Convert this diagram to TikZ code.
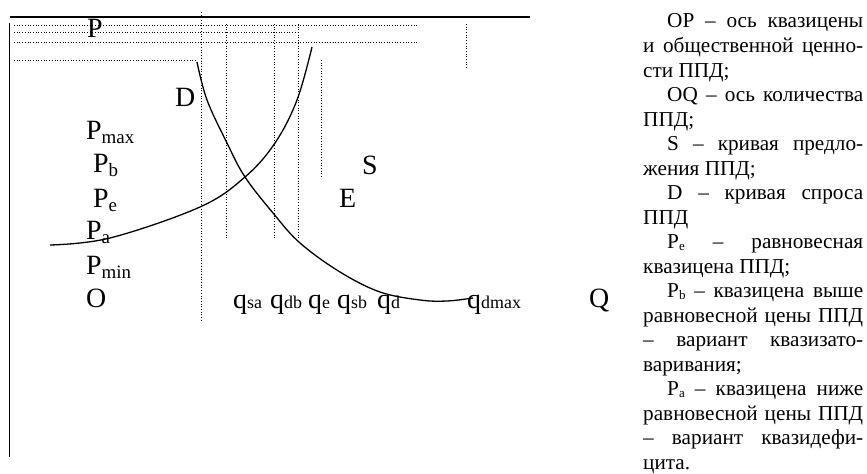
\documentclass[tikz,border=0pt]{standalone}
\usepackage{fontspec}
\setmainfont{Liberation Serif}
\newcommand\lsub[1]{\raisebox{-4bp}{\fontsize{19}{19}\selectfont #1}}
\newcommand\qsub[1]{{\fontsize{18}{18}\selectfont #1}}
\newcommand\tsub[1]{\raisebox{-2bp}{\fontsize{13}{13}\selectfont #1}}
\newcommand\jline[1]{\makebox[\linewidth][s]{#1}\par}
\newcommand\nline[1]{\mbox{#1}\par}
\begin{document}
\begin{tikzpicture}[x=1bp,y=-1bp,
  axisline/.style={line width=1bp},
  topline/.style={line width=1.6bp},
  guide/.style={line width=0.8bp, dash pattern=on 0.9bp off 1.8bp},
  curveline/.style={line width=1.3bp},
  lbl/.style={font=\fontsize{28}{28}\selectfont, inner sep=0pt, anchor=base west}]
\useasboundingbox (0,0) rectangle (867,474);
% axes
\draw[topline] (10,17) -- (530,17);
\draw[axisline] (9,23) -- (9,457);
% dotted guides
\draw[guide] (14,25) -- (419,25);
\draw[guide] (14,32) -- (298,32);
\draw[guide] (14,42) -- (419,42);
\draw[guide] (14,60) -- (197,60);
\draw[guide] (201,12) -- (201,322);
\draw[guide] (226,24) -- (226,240);
\draw[guide] (274,24) -- (274,240);
\draw[guide] (298,24) -- (298,240);
\draw[guide] (321,60) -- (321,177);
\draw[guide] (466,24) -- (466,69);
% curves
\draw[curveline] plot[smooth, tension=0.6] coordinates {(50,245) (110,238) (200,207) (245,177) (275,143) (297,100) (312,47)};
\draw[curveline] plot[smooth, tension=0.6] coordinates {(197,62) (207,100) (227,143) (245,177) (273,213) (300,243) (340,272) (380,292) (420,300) (447,301) (473,298)};
% labels
\node[lbl] (lP) at (87,38) {P};
\node[lbl] (lD) at (175,107) {D};
\node[lbl] (lPmax) at (86,140) {P\lsub{max}};
\node[lbl] (lPb) at (93,173) {P\lsub{b}};
\node[lbl] (lPe) at (93,208) {P\lsub{e}};
\node[lbl] (lPa) at (86,240) {P\lsub{a}};
\node[lbl] (lPmin) at (86,275) {P\lsub{min}};
\node[lbl] (lO) at (86,308) {O};
\node[lbl] (lS) at (362,175) {S};
\node[lbl] (lE) at (339,208) {E};
\node[lbl] (lQ) at (589,308) {Q};
\node[lbl] (qsa) at (233,309) {q\qsub{sa}};
\node[lbl] (qdb) at (270,309) {q\qsub{db}};
\node[lbl] (qe) at (308,309) {q\qsub{e}};
\node[lbl] (qsb) at (337,309) {q\qsub{sb}};
\node[lbl] (qd) at (377,309) {q\qsub{d}};
\node[lbl] (qdmax) at (467,309) {q\qsub{dmax}};
% legend text
\node[inner sep=0pt, anchor=base west] (legend) at (643,28) {\parbox[t]{220bp}{%
\fontsize{21.3}{24.6}\selectfont\setlength\parindent{0pt}%
\jline{\hspace*{24bp}OP – ось квазицены}
\jline{и общественной ценно-}
\nline{сти ППД;}
\jline{\hspace*{24bp}OQ – ось количества}
\nline{ППД;}
\jline{\hspace*{24bp}S – кривая предло-}
\nline{жения ППД;}
\jline{\hspace*{24bp}D – кривая спроса}
\nline{ППД}
\jline{\hspace*{24bp}P\tsub{e} – равновесная}
\nline{квазицена ППД;}
\jline{\hspace*{24bp}P\tsub{b} – квазицена выше}
\jline{равновесной цены ППД}
\jline{– вариант квазизато-}
\nline{варивания;}
\jline{\hspace*{24bp}P\tsub{a} – квазицена ниже}
\jline{равновесной цены ППД}
\jline{– вариант квазидефи-}
\nline{цита.}}};
\end{tikzpicture}
\end{document}
